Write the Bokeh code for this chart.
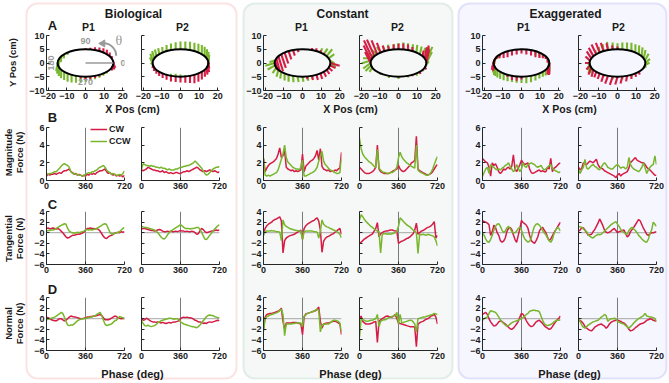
import math
from bokeh.plotting import figure
from bokeh.models import Range1d, Span, BoxAnnotation, Legend, LegendItem, FixedTicker
from bokeh.core.properties import value
from bokeh.embed import file_html
from bokeh.resources import INLINE

# ---------------- data ----------------
PHASE = list(range(0, 721, 15))
XY_TICKS_X = [-20, -10, 0, 10, 20]
XY_TICKS_Y = [-10, -5, 0, 5, 10]
PHASE_TICKS = [0, 360, 720]
MAG_TICKS = [0, 2, 4, 6]
FORCE_TICKS = [-6, -4, -2, 0, 2, 4]
ELLIPSE_A, ELLIPSE_B = 15.0, 5.0

BIO_P1_MAG_CW = [0.5,0.7,0.6,0.7,0.7,0.8,0.7,0.8, 0.9,0.8,1.0,1.1,1.1,1.2,1.3,1.0, 0.9,0.7,0.8,0.6,0.7,0.6,0.5,0.6,
                 0.5,0.7,0.6,0.8,0.7,0.8,0.7,0.9, 1.0,1.1,1.1,1.2,1.3,1.0,0.8,0.9, 0.7,0.6,0.7,0.5,0.6,0.5,0.6,0.4, 0.6]
BIO_P1_MAG_CCW = [0.8,0.7,0.8,0.8,0.9,1.0,1.0,1.2, 1.4,1.6,1.8,1.9,1.8,1.7,1.5,1.0, 0.8,0.8,0.7,0.7,0.6,0.6,0.5,0.5,
                  0.7,0.8,0.9,0.8,1.0,1.0,1.1,1.2, 1.4,1.5,1.6,1.7,1.5,1.2,1.0,0.9, 0.7,0.8,0.7,0.6,0.6,0.7,0.6,0.8, 1.1]
BIO_P2_MAG_CW = [1.2,1.1,1.2,1.3,1.5,1.4,1.3,1.2, 1.2,1.1,1.1,1.0,1.0,1.1,0.9,1.0, 0.9,0.8,0.9,0.8,0.8,0.9,0.9,0.8,
                 0.8,0.9,1.0,1.0,1.1,1.0,1.1,1.2, 1.3,1.4,1.5,1.4,1.2,1.1,1.0,1.1, 1.0,1.1,1.2,1.1,1.0,1.1,1.0,0.9, 1.0]
BIO_P2_MAG_CCW = [1.3,1.9,1.8,1.7,1.7,1.6,1.7,1.6, 1.6,1.5,1.5,1.4,1.5,1.4,1.4,1.3, 1.2,1.3,1.2,1.2,1.2,1.3,1.3,1.4,
                  1.5,1.5,1.6,1.6,1.7,1.7,1.8,1.9, 2.0,2.2,2.0,1.8,1.6,1.4,1.1,0.8, 0.6,0.7,0.9,1.1,1.3,1.4,1.5,1.5, 1.6]
BIO_P1_TAN_CW = [0.8,0.9,0.7,0.8,0.9,0.8,0.7,0.8, 0.6,0.3,0.0,-0.4,-0.8,-1.0,-0.9,-0.7, -0.5,-0.5,-0.4,-0.3,-0.3,-0.2,-0.1,0.1,
                 0.5,0.8,0.8,0.9,0.8,0.8,0.7,0.8, 0.6,0.3,-0.2,-0.7,-1.0,-1.1,-0.8,-0.6, -0.5,-0.3,-0.1,0.0,0.1,0.0,0.2,0.1, 0.2]
BIO_P1_TAN_CCW = [0.3,0.4,0.4,0.5,0.5,0.6,0.8,1.0, 1.2,1.4,1.5,1.7,1.6,0.8,0.3,0.1, 0.0,-0.1,0.0,0.1,0.0,0.1,0.2,0.3,
                  0.5,0.6,0.5,0.6,0.5,0.6,0.7,0.8, 1.0,1.2,1.4,1.6,1.7,1.5,0.8,0.1, -0.3,-0.2,-0.1,0.0,0.0,0.2,0.5,0.8, 1.0]
BIO_P2_TAN_CW = [0.7,0.8,0.8,0.7,0.6,0.5,0.4,0.4, 0.3,0.4,0.5,0.6,0.5,0.3,0.2,0.2, 0.3,0.2,0.3,0.2,0.2,0.3,0.2,0.3,
                 0.4,0.3,0.3,0.2,0.3,0.2,0.2,0.3, 0.2,0.0,-0.3,-0.2,0.4,0.8,0.6,0.2, 0.0,0.1,0.2,0.3,0.3,0.4,0.5,0.4, 0.5]
BIO_P2_TAN_CCW = [1.2,1.1,1.0,1.0,0.9,0.8,0.7,0.6, 0.5,0.3,0.0,-0.4,-0.8,-1.1,-1.2,-0.9, -0.4,0.0,0.3,0.5,0.7,0.9,1.1,1.3,
                  1.5,1.3,1.0,0.8,0.8,0.8,0.7,0.8, 0.8,0.9,1.0,1.0,0.6,0.1,-0.6,-1.2, -1.3,-0.9,-0.5,-0.1,0.3,0.7,1.0,1.3, 1.5]
BIO_P1_NORM_CW = [0.3,0.2,0.0,-0.2,-0.3,-0.4,-0.4,-0.2, 0.0,0.0,-0.2,-0.4,-0.3,0.0,0.3,0.5, 0.4,0.3,0.3,0.2,0.1,0.0,0.0,0.1,
                  0.2,0.3,0.3,0.4,0.4,0.5,0.5,0.6, 0.7,0.8,0.6,0.2,-0.2,-0.2,-0.2,-0.1, 0.1,0.3,0.5,0.4,0.2,0.1,0.0,0.1, 0.0]
BIO_P1_NORM_CCW = [-0.2,-0.1,0.0,0.1,0.2,0.3,0.5,0.7, 0.9,1.2,1.0,0.3,-0.5,-1.2,-1.3,-1.2, -1.2,-1.0,-0.7,-0.4,-0.2,-0.1,0.0,0.0,
                   0.1,0.1,0.2,0.3,0.3,0.5,0.6,0.8, 1.0,1.2,0.6,-0.3,-1.0,-1.3,-1.2,-1.1, -1.0,-0.7,-0.4,-0.3,0.1,0.4,0.3,0.2, 0.0]
BIO_P2_NORM_CW = [0.0,-0.3,-0.2,0.1,-0.1,-0.3,-0.5,-0.6, -0.6,-0.7,-0.6,-0.7,-0.8,-0.7,-0.8,-0.9, -0.8,-0.7,-0.8,-0.7,-0.6,-0.6,-0.5,-0.4,
                  0.0,0.2,0.3,0.2,0.3,0.2,0.2,0.1, -0.1,-0.3,-0.4,-0.6,-0.6,-0.7,-0.9,-0.8, -0.9,-0.7,-0.6,-0.7,-0.6,-0.5,-0.4,-0.3, -0.4]
BIO_P2_NORM_CCW = [-0.3,-0.9,-1.3,-1.4,-1.2,-1.4,-1.5,-1.4, -1.3,-1.1,-0.8,-0.6,-0.4,-0.3,-0.2,-0.1, 0.0,0.1,0.1,0.0,-0.1,0.0,0.0,-0.2,
                   -0.6,-0.8,-1.0,-1.1,-1.2,-1.3,-1.4,-1.5, -1.5,-1.6,-1.7,-1.5,-1.2,-0.8,-0.4,0.0, 0.4,0.6,0.7,0.6,0.6,0.4,0.3,0.2, 0.2]

CONST_P1_MAG_CW = [2.5,1.0,1.4,1.7,1.9,2.0,2.1,2.3, 2.5,3.0,3.7,2.6,2.8,3.4,1.5,1.3, 1.2,1.1,1.2,1.0,1.1,1.0,1.1,1.2,
                   3.0,1.0,1.6,1.8,2.0,2.2,2.3,2.5, 2.8,3.4,2.3,3.6,1.6,1.3,1.2,1.1, 1.2,1.0,1.1,1.0,1.2,1.1,1.3,1.4, 3.2]
CONST_P1_MAG_CCW = [2.5,0.6,0.5,0.6,0.5,0.6,0.7,0.8, 0.9,1.2,1.8,2.4,3.0,4.0,2.6,2.1, 1.9,1.7,1.5,1.4,1.3,1.3,1.2,1.5,
                    2.3,0.5,0.5,0.6,0.7,0.8,0.9,1.0, 1.2,1.5,2.2,2.8,3.3,2.2,1.8,1.6, 1.4,1.2,1.1,1.0,0.9,0.8,0.8,0.9, 2.5]
CONST_P2_MAG_CW = [1.5,1.3,1.1,0.9,0.8,0.8,0.8,0.9, 1.0,1.2,1.5,4.0,1.3,1.0,0.9,0.8, 0.8,0.8,0.8,0.9,1.0,1.1,1.2,1.3,
                   1.7,1.3,1.1,1.0,1.1,1.3,1.5,1.7, 2.0,2.1,2.3,5.0,1.3,1.1,1.0,0.9, 0.8,0.7,0.6,0.7,0.8,1.0,1.3,1.6, 1.8]
CONST_P2_MAG_CCW = [4.8,3.6,3.0,2.7,2.5,2.3,2.1,2.0, 1.8,1.6,1.5,3.5,1.4,1.2,1.0,0.9, 0.9,0.8,0.8,0.9,0.9,1.0,1.2,1.5,
                    2.6,3.2,2.7,2.4,2.2,2.0,1.9,1.7, 1.6,1.5,1.4,4.0,1.2,1.0,0.9,0.8, 0.7,0.6,0.6,0.7,0.9,1.3,1.8,2.3, 2.7]
CONST_P1_TAN_CW = [-0.3,0.8,1.3,1.6,1.8,2.0,2.3,2.5, 2.6,2.8,3.0,2.2,-3.8,-1.5,-1.0,-0.8, -0.6,-0.5,-0.4,-0.3,-0.1,0.1,0.3,0.5,
                   -1.2,0.8,1.3,1.6,1.8,2.0,2.2,2.3, 2.6,2.8,2.2,0.5,-3.7,-1.6,-1.1,-0.8, -0.7,-0.5,-0.3,-0.2,0.1,0.3,0.6,0.8, -0.3]
CONST_P1_TAN_CCW = [-0.5,0.2,0.3,0.3,0.3,0.4,0.3,0.3, 0.2,0.2,0.1,-1.5,2.4,1.5,1.2,1.0, 0.8,0.7,0.6,0.5,0.4,0.4,0.3,0.3,
                    -1.3,0.2,0.3,0.3,0.3,0.3,0.3,0.2, 0.2,0.1,-1.0,0.3,2.4,1.6,1.3,1.1, 1.0,0.8,0.7,0.5,0.4,0.2,0.0,-0.3, -1.0]
CONST_P2_TAN_CW = [-2.0,-1.8,-1.5,-1.2,-1.0,-0.8,-0.6,-0.4, -0.2,0.3,0.8,1.9,-0.8,-0.2,0.0,0.2, 0.3,0.3,0.4,0.5,0.5,0.4,0.3,0.3,
                   -2.0,-1.8,-1.6,-1.5,-1.3,-1.1,-1.0,-0.8, -0.5,-0.2,0.5,1.8,-0.3,0.0,0.3,0.4, 0.6,0.8,1.0,1.1,1.3,1.6,2.1,-1.0, -0.5]
CONST_P2_TAN_CCW = [2.4,3.4,3.0,2.5,2.1,1.8,1.5,1.2, 1.0,0.7,0.5,0.3,0.2,-3.8,-0.3,-0.2, -0.2,-0.3,-0.2,-0.3,-0.2,-0.1,0.0,0.3,
                    1.2,2.8,2.5,2.1,1.8,1.5,1.3,1.1, 0.8,0.5,0.3,0.0,-3.9,-0.3,-0.4,-0.3, -0.4,-0.5,-0.3,-0.4,-0.5,-0.6,-0.8,-1.5, -2.5]
CONST_P1_NORM_CW = [-2.0,0.3,0.8,0.9,1.0,1.0,1.1,1.2, 1.3,1.4,1.6,2.0,-0.5,-2.0,-0.8,-0.8, -0.8,-0.8,-0.7,-0.7,-0.7,-0.8,-0.9,-1.0,
                    -3.0,0.3,0.9,1.0,1.1,1.2,1.3,1.4, 1.5,1.8,2.2,-0.5,-1.8,-1.0,-0.9,-0.8, -0.8,-0.7,-0.6,-0.5,-0.5,-0.6,-0.8,-1.0, -3.0]
CONST_P1_NORM_CCW = [-2.4,0.0,0.4,0.5,0.7,0.8,0.9,1.0, 1.1,1.3,1.5,1.8,0.8,-3.2,-1.0,-1.0, -1.0,-1.0,-0.9,-0.9,-0.8,-0.8,-0.8,-0.8,
                     -1.5,0.5,0.7,1.0,1.1,1.2,1.3,1.4, 1.6,1.8,1.5,-2.5,-1.2,-1.1,-1.0,-1.0, -1.0,-0.8,-0.5,-0.3,-0.3,-0.4,-0.5,-0.8, -2.5]
CONST_P2_NORM_CW = [0.0,0.5,-0.5,-0.8,-1.0,-1.0,-1.0,-0.9, -0.8,-0.6,-0.5,-4.5,-0.5,-0.2,0.0,0.2, 0.4,0.5,0.4,0.3,0.3,0.5,0.8,0.0,
                    -0.8,-0.9,-1.0,-1.1,-1.2,-1.3,-1.4,-1.5, -1.5,-1.5,-1.6,-5.3,-1.0,-0.8,-0.6,-0.5, -0.3,-0.1,0.0,0.2,0.5,0.6,0.8,0.3, -1.0]
CONST_P2_NORM_CCW = [-3.5,0.0,-0.2,-0.3,-0.5,-0.5,-0.4,-0.3, -0.3,-0.1,0.0,0.8,-1.5,-0.5,-0.3,-0.2, -0.2,0.0,0.2,0.3,0.4,0.5,0.6,1.2,
                     -1.0,0.8,-0.8,-0.7,-0.6,-0.5,-0.4,-0.3, -0.3,-0.6,-1.0,-2.5,0.0,0.1,0.2,0.3, 0.3,0.4,0.5,0.6,0.7,0.8,1.0,0.9, 0.8]

EXAG_P1_MAG_CW = [2.5,2.3,2.1,2.0,1.5,0.5,2.0,1.7, 1.9,1.5,1.0,0.8,1.0,1.3,1.2,1.4, 1.5,1.3,1.6,2.9,1.3,1.0,1.4,1.8,
                  2.3,2.0,1.8,1.9,2.0,1.3,0.9,0.8, 0.9,1.0,1.1,1.2,1.0,1.1,1.0,1.0, 1.5,1.3,2.5,1.0,1.4,1.5,1.7,1.9, 2.0]
EXAG_P1_MAG_CCW = [0.5,0.9,1.3,1.5,0.8,1.8,1.6,1.5, 1.3,1.2,1.3,1.2,1.4,1.5,1.7,1.8, 2.0,1.6,1.3,1.0,1.2,1.8,1.4,1.0,
                   1.3,2.0,1.6,1.5,1.8,1.9,2.0,1.9, 1.8,1.6,1.5,1.6,1.7,1.4,1.2,1.3, 1.5,1.7,1.8,1.4,1.2,1.1,1.0,0.9, 1.0]
EXAG_P2_MAG_CW = [1.5,1.2,1.4,2.0,1.9,1.8,2.0,2.2, 2.1,2.0,2.2,2.4,1.8,1.5,1.4,1.3, 1.1,1.0,0.9,0.8,0.7,0.6,0.5,0.3,
                  0.6,0.8,0.5,0.7,0.8,0.9,1.0,1.4, 2.0,2.2,2.4,2.6,2.3,2.2,2.1,2.0, 2.0,1.8,1.5,1.3,1.2,1.0,0.8,0.6, 0.6]
EXAG_P2_MAG_CCW = [1.3,0.8,1.2,1.5,2.4,1.4,1.3,1.5, 1.7,1.8,1.6,1.5,1.3,1.2,1.5,1.8, 2.0,1.8,1.5,1.4,1.3,1.3,1.5,1.7,
                   1.8,1.6,1.4,1.5,1.5,1.3,1.5,2.6, 1.8,1.5,1.3,1.2,1.1,1.0,1.2,1.5, 2.0,1.4,0.8,1.2,1.5,1.7,1.8,2.8, 1.8]
EXAG_P1_TAN_CW = [2.3,2.1,2.0,1.8,1.5,-0.5,0.2,1.4, 1.0,0.0,-0.5,-1.5,-1.8,-1.6,-1.0,0.2, 0.8,1.0,0.6,-0.4,-1.3,-1.8,-0.5,0.8,
                  2.3,1.9,1.7,1.4,0.8,-0.5,-1.5,-1.8, -2.0,-1.5,-0.8,0.3,0.8,1.0,0.5,0.0, -0.8,-1.5,-1.2,-0.6,0.0,0.5,1.0,1.5, 2.0]
EXAG_P1_TAN_CCW = [0.0,-0.5,-1.2,-1.7,-1.8,-1.3,-0.5,0.5, 1.2,1.6,1.7,1.2,0.5,0.0,0.3,0.9, 1.2,0.8,0.2,0.0,0.0,0.3,0.8,1.0,
                   0.5,-0.5,-1.2,-1.5,-1.8,-1.6,-1.0,0.3, 1.2,1.6,1.7,1.4,1.0,0.4,0.0,-0.4, -1.0,-1.5,-1.8,-1.3,-0.2,0.5,1.0,0.8, 0.3]
EXAG_P2_TAN_CW = [0.3,0.5,1.0,0.9,0.5,0.0,-0.5,-0.4, -0.3,0.2,0.6,1.2,1.8,2.6,2.0,1.3, 0.5,0.1,0.0,0.1,0.3,0.6,0.8,0.4,
                  0.0,0.2,0.3,0.4,0.5,-0.2,-0.8,-0.5, 0.2,0.6,1.0,1.5,2.0,2.5,2.2,1.5, 0.8,0.3,-0.3,-0.5,-0.2,0.0,0.0,0.1, 0.2]
EXAG_P2_TAN_CCW = [1.2,1.1,1.0,0.7,0.4,0.2,-0.4,-0.7, -0.9,-1.0,-0.7,-0.5,-0.3,-0.4,-0.3,0.0, 0.3,0.6,0.9,1.2,1.5,1.7,1.9,2.1,
                   1.6,1.2,0.6,0.3,0.0,-0.2,-0.3,0.4, 0.8,1.0,0.7,0.4,0.0,-0.5,-0.8,-1.2, -1.5,-1.7,-1.8,-1.2,-0.2,0.5,2.0,1.6, 1.2]
EXAG_P1_NORM_CW = [0.8,1.0,1.2,0.8,0.0,-0.6,-1.0,-1.4, -1.3,-1.0,-0.6,-0.4,-0.5,-0.8,-1.0,-1.3, -1.6,-1.9,-2.0,-1.8,-1.4,-1.0,-0.5,0.3,
                   1.0,0.8,0.3,-0.4,-0.9,-1.3,-1.5,-1.4, -1.0,-0.6,-0.4,-0.3,-0.6,-0.9,-1.3,-1.6, -1.8,-2.0,-1.9,-1.5,-1.0,-0.6,-0.2,0.1, 0.5]
EXAG_P1_NORM_CCW = [-0.3,0.0,0.2,0.3,1.0,1.5,1.4,1.3, 1.2,0.8,0.3,-0.2,-0.6,-0.9,-1.2,-1.4, -1.3,-1.0,-0.8,-0.6,-0.5,-0.4,-0.3,-0.1,
                    0.0,0.2,0.5,0.8,1.0,1.4,1.5,1.6, 1.6,1.5,1.5,1.3,0.5,-0.3,-0.9,-1.2, -1.3,-1.2,-1.1,-0.9,-0.6,-0.4,-0.3,-0.3, -0.2]
EXAG_P2_NORM_CW = [-0.5,-0.3,-0.6,-0.9,-1.5,-1.8,-2.0,-2.2, -2.3,-2.0,-1.6,-1.4,-1.2,-1.1,-1.0,-1.2, -1.4,-1.8,-1.5,-1.0,-0.7,-0.5,-0.4,-0.3,
                   -0.3,-0.4,-0.5,-0.7,-0.8,-1.1,-1.5,-2.0, -2.3,-2.2,-2.0,-1.7,-1.5,-1.2,-1.0,-0.9, -0.8,-0.6,-0.3,-0.2,0.0,-0.1,-0.3,-0.4, -0.5]
EXAG_P2_NORM_CCW = [0.0,-0.5,-1.2,-1.6,-1.8,-1.5,-1.2,-1.0, -0.8,-0.6,-0.5,-0.4,-0.3,0.0,0.3,0.5, 0.8,0.6,-0.5,-0.2,0.0,0.0,0.1,0.0,
                    -0.5,-0.7,-0.8,-0.9,-1.0,-1.3,-1.5,-1.8, -1.5,-1.2,-0.8,-0.5,-0.2,0.0,0.2,0.4, 0.6,1.0,0.5,0.4,0.3,0.3,0.2,0.0, -0.5]

# force vectors on the path: (theta deg, dx cm, dy cm)
BIO_P1_VEC_CW = [(0,1.0,-1.8),(10,0.6,-1.2),(20,0.2,0.8),(30,0.1,1.3),(40,0.0,1.6),(50,0.0,1.5),(60,0.0,1.3),(70,0.0,1.0),(80,0.0,0.6),(90,0.0,0.3),
                 (260,0.0,-0.7),(270,0.0,-1.0),(280,0.0,-1.0),(290,0.0,-0.8),(300,0.0,-0.6),(340,0.3,-1.0),(350,0.8,-1.5)]
BIO_P1_VEC_CCW = [(130,0.0,-0.8),(140,-0.2,-1.5),(150,-0.3,-2.2),(160,-0.5,-2.8),(170,-0.6,-3.0),(180,-0.8,-3.0),(190,-0.5,-3.0),(200,-0.3,-3.0),
                  (210,-0.2,-3.0),(220,0.0,-3.0),(230,0.0,-3.0),(240,0.0,-2.8),(250,0.0,-2.5),(260,0.0,-2.2),(270,0.0,-1.8),(280,0.0,-1.4),
                  (290,0.0,-1.2),(300,0.0,-1.0),(310,0.0,-0.8),(320,0.0,-0.6)]
BIO_P2_VEC_CW = [(190,-0.3,-1.0),(200,-0.2,-1.2),(210,0.0,-1.4),(220,0.0,-1.5),(230,0.0,-1.6),(240,0.0,-1.8),(250,0.0,-2.0),(260,0.0,-2.0),
                 (270,0.0,-2.1),(280,0.0,-2.3),(290,0.0,-2.6),(300,0.0,-3.0),(310,0.0,-3.0),(320,0.0,-2.8),(330,0.2,-2.5),(340,0.4,-2.5),
                 (350,0.6,-2.5),(0,0.5,-2.0),(10,0.4,-1.5)]
BIO_P2_VEC_CCW = [(0,0.5,3.0),(10,0.3,3.2),(20,0.2,3.3),(30,0.0,3.4),(40,0.0,3.3),(50,0.0,3.2),(60,0.0,3.0),(70,0.0,3.0),(80,0.0,2.9),
                  (90,0.0,2.8),(100,0.0,2.6),(110,0.0,2.4),(120,0.0,2.2),(130,-0.2,2.0),(140,-0.5,2.2),(150,-0.8,2.4),(160,-1.2,2.6),
                  (170,-1.5,2.5),(180,-1.5,2.0),(190,-1.2,1.0),(200,-0.8,0.3),(250,0.0,0.8),(260,0.0,1.0),(270,0.0,0.8),(280,0.0,0.6),(350,0.5,2.5)]
CONST_P1_VEC_CW = [(0,5.0,-1.0),(40,0.3,0.5),(50,0.2,0.8),(60,0.0,1.0),(70,0.0,0.8),(100,0.5,-1.0),(110,1.0,-2.0),(120,1.5,-3.0),
                   (130,2.0,-4.0),(140,2.5,-5.0),(150,2.5,-5.5),(160,2.0,-5.0),(170,1.5,-3.5),(180,1.0,-2.0),(280,0.0,-1.0),(290,0.5,-1.5),
                   (300,0.8,-1.8),(310,1.0,-2.0),(320,1.2,-1.8),(330,1.5,-1.5),(340,2.0,-1.2),(350,3.0,-1.0)]
CONST_P1_VEC_CCW = [(0,3.0,-1.5),(10,2.5,-1.0),(20,3.0,1.5),(30,3.0,2.5),(40,2.0,2.0),(50,1.0,1.5),(170,-3.0,-0.5),(180,-5.0,-1.0),
                    (190,-4.0,-1.5),(200,-2.0,-2.0),(210,-1.0,-2.5),(220,-0.5,-2.5),(230,0.0,-2.5),(240,0.0,-2.5),(250,0.3,-2.3),
                    (260,0.5,-2.0),(270,0.5,-1.8),(280,0.5,-1.5),(290,0.3,-1.0)]
CONST_P2_VEC_CW = [(0,1.5,5.0),(10,1.5,5.5),(20,1.2,4.0),(30,0.5,2.0),(60,0.0,1.5),(70,0.0,2.0),(80,0.0,2.2),(90,0.0,2.0),(100,0.0,1.8),
                   (110,-0.5,1.5),(120,-1.0,2.0),(130,-2.0,3.5),(140,-3.0,5.0),(150,-4.0,6.0),(160,-4.5,6.5),(170,-4.0,5.5),(180,-3.0,4.0),
                   (300,0.0,-0.5),(320,0.3,-0.8),(340,1.0,-0.5)]
CONST_P2_VEC_CCW = [(0,3.0,4.0),(10,3.5,5.0),(20,2.5,4.0),(30,1.5,3.0),(40,1.0,2.8),(50,0.5,2.8),(60,0.3,2.5),(70,0.0,2.5),(80,0.0,2.5),
                    (90,0.0,2.3),(100,0.0,2.0),(110,-0.5,2.0),(120,-1.0,2.0),(130,-2.0,2.0),(140,-3.0,1.5),(150,-4.0,1.0),(160,-5.0,0.0),
                    (170,-5.0,-1.0),(180,-4.0,-2.0),(190,-3.0,-2.0),(200,-1.5,-1.5),(230,0.0,-0.5),(250,0.0,-0.8),(270,0.0,-0.8),
                    (290,0.0,-0.6),(310,0.3,-0.8),(330,0.5,-0.5),(350,1.5,1.5)]
EXAG_P1_VEC_CW = [(30,0.0,-1.0),(40,0.0,-1.5),(50,0.0,-2.0),(60,0.0,-2.2),(70,0.0,-2.0),(80,0.0,-1.8),(90,0.0,-1.5),(100,0.0,-1.8),
                  (110,0.0,-2.0),(120,0.0,-2.2),(130,0.0,-2.0),(140,-0.5,-1.5),(150,-1.0,-1.0),(160,-1.0,-2.0),(170,-1.0,-2.5),
                  (180,-1.0,-2.5),(190,-0.5,-2.0),(240,0.0,-0.8),(250,0.0,-1.5),(260,0.0,-1.5),(270,0.0,-1.0),(340,0.0,-2.5),
                  (350,0.0,-3.5),(0,0.0,-4.0),(10,0.0,-3.0),(20,0.0,-1.5)]
EXAG_P1_VEC_CCW = [(40,0.0,-1.0),(50,0.0,-1.5),(60,0.0,-1.5),(70,0.0,-1.0),(120,0.0,-0.5),(150,0.0,-1.0),(160,-0.5,-2.0),(170,-0.5,-3.0),
                   (180,-0.3,-3.5),(190,0.0,-3.5),(200,0.0,-3.0),(210,0.0,-2.8),(220,0.0,-2.6),(230,0.0,-2.4),(240,0.0,-2.3),(250,0.0,-2.2),
                   (260,0.0,-2.3),(270,0.0,-2.3),(280,0.0,-2.4),(290,0.0,-2.3),(300,0.0,-2.0),(310,0.0,-1.8),(320,0.0,-1.8),(330,0.0,-2.0),
                   (340,0.0,-2.5),(350,0.0,-3.0),(0,0.0,-3.0),(10,0.0,-2.5),(20,0.0,-1.5)]
EXAG_P2_VEC_CW = [(90,0.0,1.0),(100,-0.3,1.5),(110,-0.8,2.5),(120,-1.5,3.0),(130,-2.0,3.5),(140,-2.5,3.5),(150,-2.5,3.0),(160,-2.5,2.5),
                  (170,-2.5,1.5),(180,-2.5,0.0),(190,-2.0,-1.5),(200,-1.5,-2.5),(210,-1.0,-2.5),(220,-1.0,-2.0),(230,-1.0,-2.0),
                  (240,-1.2,-2.5),(250,-1.5,-2.8),(260,-1.5,-3.0),(270,-1.2,-2.8),(280,-1.0,-2.5),(290,-0.5,-2.0),(300,0.0,-1.5),
                  (310,0.3,-1.2),(320,0.5,-1.0)]
EXAG_P2_VEC_CCW = [(0,2.5,1.5),(10,2.0,2.5),(20,1.0,3.0),(30,0.5,3.2),(40,0.2,3.2),(50,0.0,3.0),(60,0.0,3.0),(70,0.0,2.8),(80,0.0,2.5),
                   (90,0.0,2.2),(100,0.0,2.5),(110,-0.5,3.0),(120,-0.5,2.5),(130,-0.5,2.0),(140,-0.5,1.5),(170,-1.0,-1.5),(180,-1.0,-2.5),
                   (190,-0.8,-2.8),(200,-0.5,-2.0),(240,0.0,-0.8),(260,0.0,-1.0),(280,0.0,-1.0),(300,0.0,-0.8),(320,0.3,-0.5),
                   (340,1.5,0.5),(350,2.5,1.0)]

PANEL_TITLES = ["Biological", "Constant", "Exaggerated"]
SUBPLOT_TITLES = ["P1", "P2"]
ROW_LABELS = [("Y Pos (cm)",), ("Magnitude", "Force (N)"), ("Tangential", "Force (N)"), ("Normal", "Force (N)")]
ROW_LETTERS = ["A", "B", "C", "D"]
LEGEND_LABELS = ["CW", "CCW"]

# ---------------- style / layout ----------------
FONT = "Liberation Sans"
TXT = "#1a1a1a"
AXC = "#262626"
RED = "#D41C45"
GREEN = "#78B62D"
GREY = "#9a9a9a"
W, H = 669, 383
FW = 78
L, R, T, B = 32, 16, 4, 18
PANEL_X = [(46, 141), (263, 359), (482, 578)]
ROWS = [(35, 55), (127, 53), (211, 53), (297, 53)]
BOXES = [(26, 236, "#F4A3A3", "#FFFFFF"), (243, 452, "#A9CDB9", "#F5F8F6"), (458, 666, "#A9A9EE", "#F6F6FE")]

SERIES = {
    (0, 0): [(BIO_P1_MAG_CW, BIO_P1_MAG_CCW), (BIO_P1_TAN_CW, BIO_P1_TAN_CCW), (BIO_P1_NORM_CW, BIO_P1_NORM_CCW)],
    (0, 1): [(BIO_P2_MAG_CW, BIO_P2_MAG_CCW), (BIO_P2_TAN_CW, BIO_P2_TAN_CCW), (BIO_P2_NORM_CW, BIO_P2_NORM_CCW)],
    (1, 0): [(CONST_P1_MAG_CW, CONST_P1_MAG_CCW), (CONST_P1_TAN_CW, CONST_P1_TAN_CCW), (CONST_P1_NORM_CW, CONST_P1_NORM_CCW)],
    (1, 1): [(CONST_P2_MAG_CW, CONST_P2_MAG_CCW), (CONST_P2_TAN_CW, CONST_P2_TAN_CCW), (CONST_P2_NORM_CW, CONST_P2_NORM_CCW)],
    (2, 0): [(EXAG_P1_MAG_CW, EXAG_P1_MAG_CCW), (EXAG_P1_TAN_CW, EXAG_P1_TAN_CCW), (EXAG_P1_NORM_CW, EXAG_P1_NORM_CCW)],
    (2, 1): [(EXAG_P2_MAG_CW, EXAG_P2_MAG_CCW), (EXAG_P2_TAN_CW, EXAG_P2_TAN_CCW), (EXAG_P2_NORM_CW, EXAG_P2_NORM_CCW)],
}
VECTORS = {
    (0, 0): (BIO_P1_VEC_CW, BIO_P1_VEC_CCW), (0, 1): (BIO_P2_VEC_CW, BIO_P2_VEC_CCW),
    (1, 0): (CONST_P1_VEC_CW, CONST_P1_VEC_CCW), (1, 1): (CONST_P2_VEC_CW, CONST_P2_VEC_CCW),
    (2, 0): (EXAG_P1_VEC_CW, EXAG_P1_VEC_CCW), (2, 1): (EXAG_P2_VEC_CW, EXAG_P2_VEC_CCW),
}


def place(p, left, top):
    p.styles = {"position": "absolute", "left": f"{left}px", "top": f"{top}px"}


def base_fig(left, top, fh, xr, yr):
    p = figure(width=FW + L + R, height=fh + T + B, x_range=Range1d(*xr), y_range=Range1d(*yr),
               output_backend="svg", toolbar_location=None,
               min_border_left=L, min_border_right=R, min_border_top=T, min_border_bottom=B)
    p.xgrid.visible = False
    p.ygrid.visible = False
    p.outline_line_color = None
    p.background_fill_alpha = 0.0
    p.border_fill_alpha = 0.0
    place(p, left - L, top - T)
    return p


def style_axes(p, xticks, yticks, ylabels):
    p.xaxis.ticker = FixedTicker(ticks=xticks)
    p.yaxis.ticker = FixedTicker(ticks=yticks)
    for ax in (p.xaxis[0], p.yaxis[0]):
        ax.axis_line_color = AXC
        ax.axis_line_width = 1
        ax.major_tick_line_color = AXC
        ax.major_tick_in = 3
        ax.major_tick_out = 0
        ax.minor_tick_line_color = None
        ax.major_label_text_font = FONT
        ax.major_label_text_font_style = "bold"
        ax.major_label_text_font_size = "9px"
        ax.major_label_text_color = TXT
        ax.major_label_standoff = 2
    if not ylabels:
        p.yaxis[0].major_label_text_color = None


def quiver(p, vecs, color):
    th = [math.radians(v[0]) for v in vecs]
    x0 = [ELLIPSE_A * math.cos(t) for t in th]
    y0 = [ELLIPSE_B * math.sin(t) for t in th]
    x1 = [a + v[1] for a, v in zip(x0, vecs)]
    y1 = [b + v[2] for b, v in zip(y0, vecs)]
    p.segment(x0=x0, y0=y0, x1=x1, y1=y1, line_color=color, line_width=2.1)


roots = []

# background: panel boxes, shared labels, legend
bg = figure(width=W, height=H, x_range=Range1d(0, W), y_range=Range1d(0, H), min_border=0,
            min_border_left=0, min_border_right=0, min_border_top=0, min_border_bottom=0,
            output_backend="svg", toolbar_location=None, x_axis_type=None, y_axis_type=None)
bg.outline_line_color = None
bg.xgrid.visible = False
bg.ygrid.visible = False
place(bg, 0, 0)
for (x0, x1, lc, fc) in BOXES:
    bg.add_layout(BoxAnnotation(left=x0, right=x1, top=H - 3, bottom=H - 378, fill_color=fc, fill_alpha=1.0,
                                line_color=lc, line_width=2, border_radius=11, level="underlay"))


def label(x, y, s, size, angle=0.0, color=TXT, font=FONT, style="bold"):
    bg.text(x=[x], y=[H - y], text=[s], text_font=value(font), text_font_style=style,
            text_font_size=value(f"{size}px"), text_align="center", text_baseline="middle",
            text_color=color, angle=angle)


for s, cx in zip(PANEL_TITLES, [133, 342, 565]):
    label(cx, 13, s, 12)
for (p1x, p2x) in [(88, 182), (301, 397), (523, 618)]:
    label(p1x, 26, SUBPLOT_TITLES[0], 10.5)
    label(p2x, 26, SUBPLOT_TITLES[1], 10.5)
for cx in [132, 350, 569]:
    label(cx, 108.5, "X Pos (cm)", 10.5)
    label(cx, 373, "Phase (deg)", 11)
for letter, ly in zip(ROW_LETTERS, [25, 117, 204, 289]):
    label(52, ly, letter, 13)
label(12, 62, ROW_LABELS[0][0], 9.5, angle=math.pi / 2)
for lab, cy in zip(ROW_LABELS[1:], [152, 238, 323]):
    label(8, cy, lab[0], 9.5, angle=math.pi / 2)
    label(19, cy, lab[1], 9.5, angle=math.pi / 2)

# legend keys (lines with no visible points; only their legend samples are drawn)
key_cw = bg.line(x=[float("nan")], y=[float("nan")], line_color=RED, line_width=1.5)
key_ccw = bg.line(x=[float("nan")], y=[float("nan")], line_color=GREEN, line_width=1.5)
bg.add_layout(Legend(items=[LegendItem(label=value(LEGEND_LABELS[0]), renderers=[key_cw]),
                            LegendItem(label=value(LEGEND_LABELS[1]), renderers=[key_ccw])],
                     location=(90, H - 147), orientation="vertical", padding=0, spacing=0, margin=0,
                     glyph_width=17, glyph_height=12, label_height=12, label_standoff=2,
                     label_text_font=FONT, label_text_font_style="bold", label_text_font_size="9px",
                     label_text_color=TXT, border_line_color=None, background_fill_alpha=0.0))
roots.append(bg)

for pi, xs in enumerate(PANEL_X):
    for si, left in enumerate(xs):
        # position plot
        top, fh = ROWS[0]
        p = base_fig(left, top, fh, (-21, 21), (-10, 10))
        style_axes(p, XY_TICKS_X, XY_TICKS_Y, si == 0)
        vcw, vccw = VECTORS[(pi, si)]
        quiver(p, vccw, GREEN)
        quiver(p, vcw, RED)
        p.ellipse(x=[0], y=[0], width=[2 * ELLIPSE_A], height=[2 * ELLIPSE_B], fill_color=None,
                  line_color="black", line_width=2)
        if pi == 0 and si == 0:
            p.segment(x0=[0], y0=[0], x1=[ELLIPSE_A], y1=[0], line_color=GREY, line_width=1.5)
            p.text(x=[0, 0, 20.2], y=[7.9, -7.0, 0], text=["90", "270", "0"], text_font=value(FONT),
                   text_font_style="bold", text_font_size=value("9px"), text_align="center",
                   text_baseline="middle", text_color=GREY)
            p.text(x=[-18.5], y=[0], text=["180"], text_font=value(FONT), text_font_style="bold",
                   text_font_size=value("9px"), text_align="center", text_baseline="middle",
                   text_color=GREY, angle=math.pi / 2)
            p.arc(x=[9.8], y=[2.6], radius=12.5, radius_units="screen", start_angle=0.0,
                  end_angle=math.radians(92), line_color=GREY, line_width=2)
            p.scatter(x=[9.3], y=[7.1], marker="triangle", size=7, angle=math.pi / 2,
                      fill_color=GREY, line_color=GREY)
            p.text(x=[18.0], y=[8.3], text=["θ"], text_font=value("Liberation Serif"),
                   text_font_size=value("14px"), text_align="center", text_baseline="middle",
                   text_color=GREY)
        roots.append(p)

        # force plots
        for ri, (cw, ccw) in enumerate(SERIES[(pi, si)]):
            top, fh = ROWS[ri + 1]
            if ri == 0:
                yr, yt = (0, 6), MAG_TICKS
            else:
                yr, yt = (-6, 4), FORCE_TICKS
            p = base_fig(left, top, fh, (0, 720), yr)
            style_axes(p, PHASE_TICKS, yt, si == 0)
            p.add_layout(Span(location=360, dimension="height", line_color="#7a7a7a", line_width=1, level="underlay"))
            if ri > 0:
                p.add_layout(Span(location=0, dimension="width", line_color="#a6a6a6", line_width=1, level="underlay"))
            p.line(PHASE, cw, line_color=RED, line_width=1.5)
            p.line(PHASE, ccw, line_color=GREEN, line_width=1.5)
            roots.append(p)

open("out.html", "w").write(file_html(roots, INLINE))
